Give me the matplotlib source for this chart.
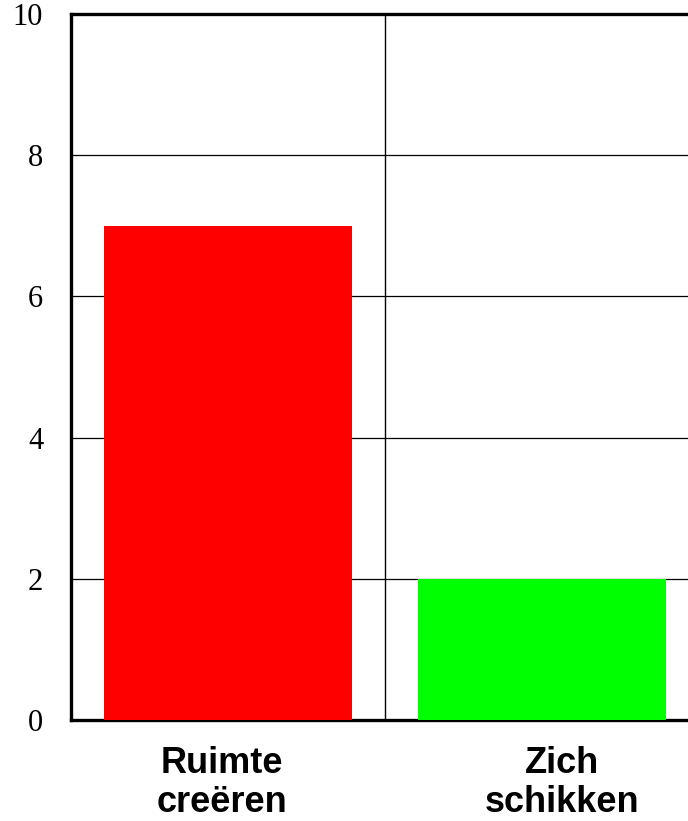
import matplotlib
matplotlib.use("Agg")
import matplotlib.pyplot as plt
import matplotlib.transforms as mtransforms

categories = ["Ruimte\ncreëren", "Zich\nschikken"]
values = [7, 2]
colors = ["#ff0000", "#00ff00"]
yticks = [0, 2, 4, 6, 8, 10]

fig = plt.figure(figsize=(6.88, 8.21), dpi=100)
W, H = 688, 821
ax = fig.add_axes([71 / W, 1 - 720 / H, (699 - 71) / W, (720 - 14) / H])

x = list(range(len(categories)))
ax.bar(x, values, width=0.79, color=colors, zorder=3)
ax.set_xlim(-0.5, len(categories) - 0.5)
ax.set_ylim(0, 10)

ax.set_yticks(yticks)
ax.set_yticklabels([str(v) for v in yticks], family="Liberation Serif", fontsize=22)
ax.yaxis.grid(True, color="black", linewidth=0.9, zorder=1)
ax.set_axisbelow(True)
ax.tick_params(axis="y", length=0, pad=20)

ax.set_xticks(x)
ax.set_xticklabels(categories, family="Liberation Sans", fontweight="bold", fontsize=26,
                   linespacing=1.14)
ax.tick_params(axis="x", length=0, pad=19)
# internal category separator
ax.set_xticks([0.5], minor=True)
ax.xaxis.grid(True, which="minor", color="black", linewidth=1.0)
ax.tick_params(axis="x", which="minor", length=0)

offs = [-6, 20]
for lbl, o in zip(ax.get_xticklabels(), offs):
    lbl.set_transform(lbl.get_transform() + mtransforms.ScaledTranslation(o / 100, 0, fig.dpi_scale_trans))

for s in ax.spines.values():
    s.set_linewidth(2.4)
    s.set_color("black")

fig.savefig("out.png", dpi=100)
